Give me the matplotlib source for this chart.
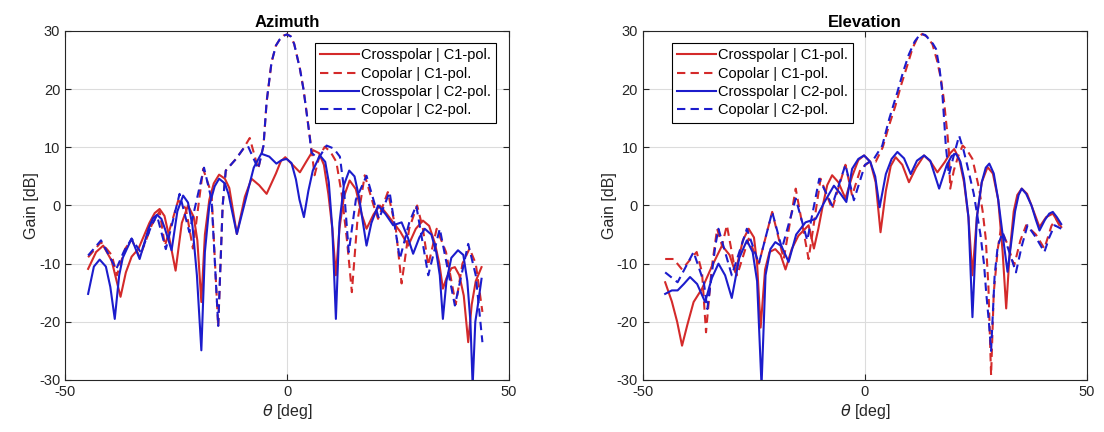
import matplotlib
matplotlib.use("Agg")
import matplotlib.pyplot as plt
import numpy as np

plt.rcParams['font.family'] = ['Liberation Sans', 'DejaVu Sans']
plt.rcParams['axes.unicode_minus'] = False

# Azimuth cut, values (theta in deg, gain in dB)
az_cross_c1_x = [-44.8, -43.0, -41.4, -39.5, -37.5, -36.3, -35.0, -33.5, -31.0, -29.8, -28.7, -27.6, -26.8, -25.1,
                 -23.7, -22.3, -21.0, -20.2, -19.3, -18.5, -17.5, -16.5, -15.3, -14.0, -13.0, -11.3, -9.5, -8.0,
                 -6.3, -4.6, -2.5, -1.4, -0.4, 0.6, 2.9, 4.3, 5.9, 7.2, 8.3, 9.3, 10.2, 11.0, 11.8, 12.8, 14.1,
                 15.5, 16.8, 17.9, 19.5, 20.9, 22.5, 24.0, 25.5, 27.3, 29.0, 30.6, 32.0, 33.3, 34.3, 35.1, 35.9,
                 37.0, 37.8, 38.8, 39.8, 40.8, 41.6, 42.5, 43.8]
az_cross_c1_y = [-10.9, -8.0, -6.9, -9.5, -15.7, -11.5, -8.8, -7.5, -3.0, -1.3, -0.6, -1.8, -4.5, -11.2,
                 -3.0, 0.0, -2.0, -6.0, -16.6, -5.0, 1.0, 3.8, 5.3, 4.6, 3.0, -4.9, 1.5, 4.6,
                 3.5, 2.0, 5.5, 7.6, 8.3, 7.5, 5.7, 7.5, 9.5, 9.0, 7.0, 2.0, -4.0, -12.0, -4.0, 1.5, 4.3,
                 2.8, -1.5, -4.0, -1.5, 0.0, -1.5, -3.0, -4.5, -6.9, -4.0, -2.6, -3.5, -6.5, -10.0, -14.3, -12.5,
                 -10.8, -10.6, -12.0, -15.5, -23.5, -17.0, -13.0, -10.6]

az_co_c1_x = [-44.8, -41.9, -39.5, -38.3, -36.5, -35.0, -33.2, -30.5, -28.7, -27.5, -24.5, -22.8, -21.2, -18.9,
              -17.0, -15.5, -14.5, -13.8, -11.5, -9.9, -8.4, -6.5, -5.3, -4.6, -3.5, -2.5, -1.6, -0.8, 0.0,
              0.8, 1.6, 2.9, 3.7, 4.4, 5.0, 5.5, 6.2, 7.3, 8.5, 9.8, 11.1, 12.3, 13.5, 14.6, 15.8, 17.5,
              19.5, 20.5, 22.7, 24.5, 25.8, 27.5, 29.3, 30.6, 31.8, 33.7, 35.8, 38.0, 39.5, 41.1, 42.5, 44.0]
az_co_c1_y = [-8.9, -6.3, -8.5, -12.0, -7.5, -5.8, -8.9, -3.4, -1.0, -6.9, 0.9, -0.5, -7.4, 6.3,
              2.0, -20.9, 0.0, 6.0, 8.0, 9.7, 11.6, 6.3, 10.3, 17.8, 24.6, 27.5, 28.6, 29.2, 29.4,
              29.1, 27.8, 23.5, 20.0, 16.0, 12.5, 9.7, 5.2, 8.5, 10.1, 9.2, 7.5, 2.0, -6.0, -14.9, -3.0, 5.2,
              0.0, -2.3, 2.3, -4.0, -13.4, -4.0, 0.0, -4.0, -10.3, -4.0, -8.0, -17.0, -10.0, -7.4, -10.0, -18.3]

az_cross_c2_x = [-44.8, -43.5, -42.2, -40.8, -39.8, -38.8, -37.8, -37.0, -35.0, -33.2, -31.2, -30.2, -29.3, -28.3,
                 -27.5, -26.0, -24.7, -23.4, -22.3, -21.3, -20.3, -19.3, -18.5, -17.5, -16.3, -15.3, -14.0, -13.2,
                 -11.3, -10.0, -9.0, -7.5, -5.8, -4.0, -2.4, -1.2, -0.1, 1.0, 2.0, 2.8, 3.8, 4.8, 5.8, 7.4,
                 8.6, 9.4, 10.2, 11.0, 11.8, 12.8, 14.0, 15.2, 16.2, 17.0, 17.9, 19.0, 20.5, 22.2, 23.9, 25.8,
                 27.2, 28.4, 29.8, 31.0, 32.5, 33.6, 34.4, 35.1, 35.9, 37.0, 38.5, 39.7, 40.6, 41.3, 41.8, 42.4,
                 43.0, 43.8]
az_cross_c2_y = [-15.2, -10.5, -9.3, -10.5, -14.0, -19.5, -12.0, -9.0, -5.7, -9.2, -4.0, -2.2, -1.6, -2.3,
                 -4.0, -7.7, -1.0, 1.7, 0.5, -3.5, -12.0, -24.9, -8.0, 0.0, 3.3, 4.6, 3.8, 2.0,
                 -4.9, -1.0, 2.0, 6.5, 8.9, 8.4, 7.2, 7.8, 8.0, 7.3, 4.5, 1.0, -2.0, 2.5, 6.0, 8.6,
                 7.5, 4.0, -4.0, -19.5, -3.0, 3.5, 6.0, 5.0, 1.5, -2.5, -6.9, -3.0, 0.0, -1.5, -3.4, -2.9,
                 -5.5, -8.3, -5.5, -4.0, -5.0, -8.0, -12.0, -19.5, -13.0, -9.0, -7.7, -8.5, -13.0, -20.0, -31.0, -20.0,
                 -17.0, -12.6]

az_co_c2_x = [-44.8, -41.9, -39.8, -38.5, -36.8, -35.0, -32.9, -30.5, -29.3, -27.3, -24.2, -22.0, -18.7, -17.0,
              -15.5, -14.5, -13.8, -11.5, -9.9, -8.8, -6.5, -5.3, -4.6, -3.5, -2.5, -1.6, -0.8, 0.0, 0.8,
              1.6, 2.9, 3.7, 4.4, 5.0, 5.5, 7.0, 8.9, 10.5, 11.9, 12.8, 13.9, 15.5, 17.9, 20.7, 23.1, 25.4,
              27.5, 29.1, 31.8, 34.4, 37.8, 40.8, 42.5, 44.0]
az_co_c2_y = [-8.6, -6.0, -9.0, -11.0, -8.0, -5.7, -8.1, -3.4, -1.7, -7.5, 2.0, -4.6, 6.5, 1.0,
              -20.7, 0.0, 6.0, 8.0, 9.7, 10.2, 6.3, 10.3, 17.8, 24.6, 27.5, 28.6, 29.2, 29.4, 29.1,
              27.8, 23.5, 20.0, 16.0, 12.5, 9.1, 8.0, 10.3, 9.8, 8.4, 3.0, -8.0, 1.0, 5.1, -2.3, 2.3, -9.2,
              -3.0, 0.0, -12.0, -4.0, -17.2, -6.6, -12.0, -23.5]

# Elevation cut
el_cross_c1_x = [-45.0, -43.5, -42.3, -41.2, -40.0, -38.6, -36.7, -34.5, -32.2, -30.5, -29.2, -27.5, -26.2, -25.0,
                 -24.3, -23.5, -22.5, -21.5, -20.2, -19.0, -17.9, -16.5, -15.0, -12.7, -11.5, -10.5, -9.5, -8.5,
                 -7.4, -6.0, -4.4, -2.9, -1.5, -0.2, 1.2, 2.4, 3.5, 4.7, 5.8, 6.9, 8.4, 9.9, 11.5, 13.3,
                 14.8, 16.3, 18.0, 19.2, 20.1, 21.2, 22.3, 23.3, 24.2, 25.2, 26.3, 27.6, 28.8, 30.0, 31.0, 31.8,
                 32.6, 33.5, 34.3, 35.3, 36.5, 37.5, 39.3, 40.8, 42.3, 44.2]
el_cross_c1_y = [-13.2, -16.5, -20.0, -24.1, -20.5, -16.6, -14.3, -10.5, -6.9, -8.5, -11.5, -6.0, -4.0, -5.5,
                 -10.0, -21.0, -11.0, -8.0, -7.5, -8.5, -11.0, -7.5, -5.2, -3.4, -7.4, -4.0, 0.0, 3.5,
                 5.2, 4.0, 1.2, 5.0, 7.8, 8.6, 7.5, 4.0, -4.6, 2.5, 6.8, 8.3, 7.0, 4.0, 6.5, 8.6,
                 7.5, 5.7, 7.5, 9.0, 9.7, 8.0, 4.0, -2.0, -12.0, -2.0, 4.0, 6.6, 5.5, 1.0, -8.0, -17.7,
                 -8.0, -1.0, 1.8, 2.9, 2.0, 0.0, -3.7, -2.0, -1.4, -3.7]

el_co_c1_x = [-45.0, -43.1, -41.2, -38.6, -37.9, -36.7, -35.8, -34.5, -33.3, -32.2, -31.1, -29.6, -28.8, -26.2,
              -23.9, -20.9, -18.3, -15.6, -12.7, -10.0, -7.4, -4.4, -2.9, -1.0, 1.0, 2.4, 4.0, 5.4, 6.8,
              8.1, 9.5, 10.7, 11.8, 12.9, 14.0, 15.2, 16.2, 17.1, 17.8, 18.2, 18.6, 18.9, 19.2, 20.0, 21.0,
              22.0, 23.0, 24.2, 25.7, 26.5, 27.2, 27.8, 28.4, 29.0, 29.9, 30.6, 32.0, 33.6, 35.0, 36.3, 38.5,
              40.4, 42.0, 43.0, 44.2]
el_co_c1_y = [-9.2, -9.2, -11.0, -8.6, -8.0, -11.5, -21.8, -10.6, -4.0, -6.9, -3.4, -9.7, -12.0, -5.7,
              -10.0, -1.1, -9.2, 2.9, -9.2, 4.6, -0.6, 7.0, 1.7, 6.3, 7.5, 7.5, 10.0, 13.7, 17.0,
              20.6, 24.0, 27.0, 28.8, 29.5, 29.0, 27.7, 25.0, 21.8, 18.0, 14.9, 12.0, 9.2, 2.9, 6.0, 8.5,
              10.3, 9.5, 8.0, 2.9, -1.0, -5.7, -14.0, -29.2, -15.0, -7.5, -4.0, -6.5, -10.3, -6.0, -3.4, -5.0,
              -7.4, -3.5, -2.3, -4.0]

el_cross_c2_x = [-45.0, -43.5, -42.2, -40.8, -39.4, -37.8, -36.0, -34.5, -33.0, -31.5, -30.0, -28.3, -26.6, -25.3,
                 -24.3, -23.3, -22.4, -21.3, -20.2, -18.8, -17.2, -15.5, -13.4, -11.1, -9.2, -7.0, -5.5, -4.2,
                 -2.9, -1.5, -0.2, 1.2, 2.3, 3.3, 4.7, 6.0, 7.3, 8.8, 10.3, 11.7, 13.3, 14.7, 16.7, 18.4,
                 19.5, 20.5, 21.5, 22.3, 23.3, 24.2, 25.2, 26.3, 27.2, 28.0, 29.0, 30.0, 31.0, 32.1, 33.0, 33.8,
                 34.6, 35.3, 36.3, 37.5, 38.5, 39.3, 40.5, 41.5, 42.3, 43.2, 44.2]
el_cross_c2_y = [-15.2, -14.6, -14.6, -13.5, -12.3, -13.5, -16.6, -12.5, -10.0, -12.0, -15.9, -9.0, -6.0, -8.0,
                 -13.0, -31.0, -12.0, -7.5, -6.3, -7.0, -9.7, -5.0, -2.9, -2.3, 0.5, 3.4, 2.0, 0.6,
                 6.3, 8.0, 8.6, 7.5, 5.0, -0.3, 5.4, 8.0, 9.2, 8.1, 5.4, 7.7, 8.6, 7.7, 2.9, 6.9,
                 8.5, 8.9, 7.5, 4.6, -2.0, -19.2, -2.0, 4.0, 6.5, 7.2, 5.5, 1.0, -5.0, -11.4, -6.0, -1.0,
                 1.8, 2.9, 2.0, 0.0, -2.5, -4.3, -2.5, -1.4, -1.1, -2.0, -3.2]

el_co_c2_x = [-45.0, -42.2, -38.6, -36.3, -35.5, -33.7, -33.0, -30.0, -26.6, -23.9, -20.9, -18.7, -15.6, -13.0,
              -10.3, -7.4, -4.4, -2.5, 0.0, 2.0, 3.9, 5.5, 7.3, 8.6, 9.9, 11.2, 12.5, 13.6, 14.5,
              15.3, 16.0, 16.8, 17.4, 17.8, 18.2, 18.9, 19.8, 21.2, 22.2, 23.0, 24.5, 26.0, 26.8, 27.3, 27.9,
              28.4, 29.2, 29.9, 31.0, 32.5, 34.0, 35.3, 36.6, 38.5, 40.4, 41.5, 42.7, 44.2]
el_co_c2_y = [-11.5, -13.2, -8.0, -13.2, -17.8, -6.9, -4.0, -12.0, -4.0, -10.0, -1.1, -7.4, 1.2, -6.0,
              4.6, 0.0, 7.0, 0.9, 7.0, 8.0, 10.3, 15.0, 19.5, 23.0, 26.0, 28.2, 29.5, 29.3, 28.5,
              27.8, 26.9, 23.5, 19.5, 15.0, 10.3, 5.2, 8.0, 12.0, 9.5, 7.0, 2.0, -5.0, -10.0, -15.0, -20.0,
              -25.0, -12.0, -7.0, -4.6, -8.0, -11.5, -7.0, -3.4, -5.5, -8.0, -5.5, -3.4, -4.0]

labels = ["Crosspolar | C1-pol.", "Copolar | C1-pol.", "Crosspolar | C2-pol.", "Copolar | C2-pol."]
red = '#d42a2a'
blue = '#1c1ccc'

fig = plt.figure(figsize=(11.04, 4.32), dpi=100)
ax1 = fig.add_axes([0.0589, 0.1204, 0.4022, 0.8079])
ax2 = fig.add_axes([0.5824, 0.1204, 0.4022, 0.8079])

cuts = [
    (ax1, "Azimuth",
     [(az_cross_c1_x, az_cross_c1_y), (az_co_c1_x, az_co_c1_y), (az_cross_c2_x, az_cross_c2_y), (az_co_c2_x, az_co_c2_y)],
     dict(loc='upper right', bbox_to_anchor=(0.97, 0.965))),
    (ax2, "Elevation",
     [(el_cross_c1_x, el_cross_c1_y), (el_co_c1_x, el_co_c1_y), (el_cross_c2_x, el_cross_c2_y), (el_co_c2_x, el_co_c2_y)],
     dict(loc='upper left', bbox_to_anchor=(0.065, 0.965))),
]

styles = [(red, '-'), (red, '--'), (blue, '-'), (blue, '--')]

for ax, title, series, legpos in cuts:
    for (xs, ys), (col, ls), lab in zip(series, styles, labels):
        line, = ax.plot(xs, ys, color=col, linestyle=ls, linewidth=1.5, label=lab)
        if ls == '--':
            line.set_dashes((4, 2.5))
    ax.set_xlim(-50, 50)
    ax.set_ylim(-30, 30)
    ax.set_xticks([-50, 0, 50])
    ax.set_yticks(np.arange(-30, 31, 10))
    ax.grid(True, color='#dcdcdc', linewidth=0.8)
    ax.set_axisbelow(True)
    ax.tick_params(direction='in', length=4, labelsize=10.5, colors='#262626', top=True, right=True,
                   labeltop=False, labelright=False)
    for sp in ax.spines.values():
        sp.set_color('#262626')
        sp.set_linewidth(0.8)
    ax.set_title(title, fontsize=12, fontweight='bold', pad=3)
    ax.set_xlabel(r"$\theta$ [deg]", fontsize=11.5, color='#262626', labelpad=2)
    ax.set_ylabel("Gain [dB]", fontsize=11.5, color='#262626', labelpad=0)
    leg = ax.legend(fontsize=10.5, frameon=True, fancybox=False, framealpha=1, edgecolor='black',
                    handlelength=2.7, handletextpad=0.1, borderpad=0.35, labelspacing=0.3,
                    borderaxespad=0, **legpos)
    leg.get_frame().set_linewidth(0.8)

fig.savefig("out.png", dpi=100)
